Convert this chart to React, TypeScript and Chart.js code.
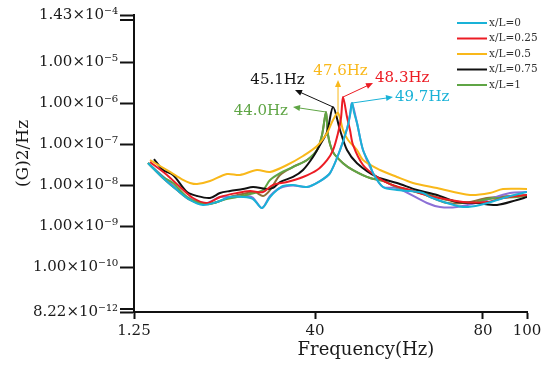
import React, { useEffect, useRef } from 'react';
import { Chart, registerables, LinearScale } from 'chart.js';

Chart.register(...registerables);

// ---------- data ----------
const seriesLabels = ['x/L=0', 'x/L=0.25', 'x/L=0.5', 'x/L=0.75', 'x/L=1'];
const peakLabels = ['49.7Hz', '48.3Hz', '47.6Hz', '45.1Hz', '44.0Hz'];

const freq0 = [4.25, 7.46, 10.46, 13.24, 16.02, 19.02, 21.8, 24.59, 26.73, 28.65, 30.37, 31.87, 33.15, 35.29, 38.29, 41.19, 43.57, 45.95, 47.62, 48.33, 48.81, 49.3, 50.0, 51.43, 53.1, 53.81, 56.19, 59.52, 62.62, 65.71, 67.38, 71.43, 75.24, 79.29, 90.9, 100];
const val0 = [3.53e-8, 1.52e-8, 7.74e-9, 4.42e-9, 3.34e-9, 3.95e-9, 5.23e-9, 5.23e-9, 4.67e-9, 2.82e-9, 5.23e-9, 7.74e-9, 9.7e-9, 1.03e-8, 9.17e-9, 1.28e-8, 2.0e-8, 7.3e-8, 2.4e-7, 5.2e-7, 1.02e-6, 6.0e-7, 3.33e-7, 7.31e-8, 3.15e-8, 2.01e-8, 9.17e-9, 7.74e-9, 7.3e-9, 6.55e-9, 5.23e-9, 3.73e-9, 2.98e-9, 3.34e-9, 5.23e-9, 6.92e-9];

const freq1 = [4.68, 8.31, 11.1, 13.88, 16.88, 19.66, 23.3, 26.08, 28.87, 31.01, 34.0, 37.43, 40.48, 42.86, 44.29, 45.48, 46.19, 46.67, 47.62, 48.33, 49.05, 51.43, 54.76, 57.86, 62.62, 67.38, 75.24, 81.82, 89.09, 100];
const val1 = [3.73e-8, 1.8e-8, 9.17e-9, 4.94e-9, 3.73e-9, 5.23e-9, 6.55e-9, 7.3e-9, 6.92e-9, 1.03e-8, 1.21e-8, 1.61e-8, 2.38e-8, 4.17e-8, 7.3e-8, 1.9e-7, 4.41e-7, 1.43e-6, 4.66e-7, 2.25e-7, 9.7e-8, 3.15e-8, 1.61e-8, 1.08e-8, 7.74e-9, 5.53e-9, 3.95e-9, 3.95e-9, 4.94e-9, 5.85e-9];

const freq2 = [4.68, 8.96, 11.74, 13.24, 14.74, 17.52, 21.16, 23.94, 27.58, 30.37, 34.0, 37.43, 40.48, 42.86, 44.29, 45.48, 46.67, 47.86, 50.0, 51.43, 55.48, 59.52, 63.33, 69.05, 76.9, 83.18, 89.09, 100];
const val2 = [4.17e-8, 2.13e-8, 1.36e-8, 1.15e-8, 1.08e-8, 1.28e-8, 1.9e-8, 1.8e-8, 2.38e-8, 2.13e-8, 3.15e-8, 5.22e-8, 9.16e-8, 1.9e-7, 3.94e-7, 5.84e-7, 2.25e-7, 1.28e-7, 7.31e-8, 4.17e-8, 2.38e-8, 1.61e-8, 1.15e-8, 8.67e-9, 5.85e-9, 6.55e-9, 8.19e-9, 8.19e-9];

const freq3 = [5.53, 7.46, 9.6, 12.6, 14.74, 17.52, 19.66, 21.8, 24.59, 26.73, 29.72, 31.01, 32.51, 35.29, 37.43, 39.57, 41.19, 42.86, 44.29, 45.95, 47.62, 50.0, 54.76, 59.52, 64.29, 69.05, 73.81, 78.57, 86.36, 95.45, 100];
const val3 = [4.41e-8, 2.38e-8, 1.8e-8, 6.92e-9, 5.53e-9, 4.94e-9, 6.55e-9, 7.32e-9, 8.19e-9, 9.17e-9, 8.19e-9, 8.67e-9, 1.21e-8, 1.61e-8, 2.38e-8, 4.94e-8, 9.68e-8, 2.01e-7, 8.18e-7, 2.25e-7, 7.31e-8, 3.5e-8, 1.61e-8, 1.15e-8, 7.74e-9, 5.85e-9, 3.95e-9, 3.73e-9, 3.34e-9, 4.42e-9, 5.23e-9];

const freq4 = [4.25, 7.46, 9.6, 12.6, 15.38, 17.52, 20.3, 23.3, 26.08, 28.87, 30.37, 32.51, 35.29, 38.29, 40.48, 41.67, 42.62, 43.1, 44.29, 46.67, 49.05, 53.1, 56.19, 59.52, 65.71, 71.43, 77.62, 80, 86.36, 95.45, 100];
const val4 = [3.53e-8, 1.61e-8, 1.15e-8, 5.23e-9, 3.73e-9, 3.53e-9, 4.42e-9, 5.23e-9, 6.19e-9, 7.74e-9, 1.36e-8, 2.01e-8, 2.82e-8, 4.17e-8, 7.31e-8, 1.7e-7, 6.17e-7, 1.7e-7, 6.5e-8, 3.5e-8, 2.38e-8, 1.52e-8, 1.3e-8, 9.17e-9, 6.55e-9, 4.42e-9, 3.73e-9, 4.42e-9, 4.94e-9, 5.23e-9, 5.53e-9];

// two faint unlabeled traces visible in the figure
const freq5 = [4.68, 8.31, 11.1, 13.88, 16.88, 19.66, 22.44, 25.44, 26.73, 28.65, 30.37, 32.51, 35.29, 38.29, 41.19, 43.57, 45.95, 47.62, 48.33, 48.81, 50.0, 51.43, 53.81, 56.19, 59.52, 66.67, 69.76, 73.81, 79.29, 92.27, 100];
const val5 = [3.15e-8, 1.36e-8, 6.92e-9, 4.42e-9, 3.73e-9, 5.23e-9, 5.23e-9, 5.53e-9, 5.0e-9, 2.82e-9, 5.53e-9, 8.67e-9, 1.0e-8, 9.17e-9, 1.28e-8, 2.0e-8, 7.3e-8, 2.4e-7, 5.2e-7, 1.0e-6, 3.33e-7, 7.31e-8, 2.01e-8, 9.17e-9, 8.67e-9, 3.73e-9, 2.98e-9, 2.98e-9, 3.95e-9, 6.55e-9, 6.92e-9];

const freq6 = [4.25, 7.46, 10.46, 13.24, 16.02, 19.02, 21.8, 24.59, 27.15, 28.87, 30.37, 32.51, 35.29, 38.29, 40.48, 41.67, 42.62, 43.1, 44.29, 46.67, 49.05, 53.1, 56.19, 59.52, 65.71, 71.43, 76.9, 81.82, 100];
const val6 = [3.53e-8, 1.52e-8, 7.74e-9, 4.42e-9, 3.53e-9, 3.95e-9, 5.23e-9, 6.19e-9, 6.92e-9, 5.53e-9, 7.74e-9, 1.8e-8, 2.82e-8, 4.17e-8, 7.31e-8, 1.7e-7, 6.17e-7, 1.7e-7, 6.5e-8, 3.5e-8, 2.38e-8, 1.52e-8, 1.3e-8, 9.17e-9, 6.2e-9, 3.73e-9, 3.95e-9, 4.94e-9, 5.85e-9];

const xTickValues = [1.25, 40, 80, 100];
const xTickLabels = ['1.25', '40', '80', '100'];
const yTickValues = [8.22e-12, 1e-10, 1e-9, 1e-8, 1e-7, 1e-6, 1e-5, 1.43e-4];
const yTickLabels = ['8.22×10⁻¹²', '1.00×10⁻¹⁰', '1.00×10⁻⁹', '1.00×10⁻⁸', '1.00×10⁻⁷', '1.00×10⁻⁶', '1.00×10⁻⁵', '1.43×10⁻⁴'];

const xTitle = 'Frequency(Hz)';
const yTitle = '(G)2/Hz';

// ---------- styles ----------
const COLORS = ['#19b2d7', '#ec1c24', '#f9b81a', '#111111', '#5fa545'];
const EXTRA_COLORS = ['#8c70d6', '#8c7038'];
const FONT = '"DejaVu Serif", "Liberation Serif", serif';

// x axis is drawn with uneven tick spacing in the figure: piecewise-linear mapping
const X_ANCHOR_HZ = [1.25, 40, 80, 100];
const X_ANCHOR_FRAC = [0, 0.4606, 0.888, 1];

function hzToFrac(v: number) {
  const a = X_ANCHOR_HZ, f = X_ANCHOR_FRAC;
  let i = 0;
  while (i < a.length - 2 && v > a[i + 1]) i++;
  return f[i] + ((v - a[i]) / (a[i + 1] - a[i])) * (f[i + 1] - f[i]);
}
function fracToHz(d: number) {
  const a = X_ANCHOR_HZ, f = X_ANCHOR_FRAC;
  let i = 0;
  while (i < f.length - 2 && d > f[i + 1]) i++;
  return a[i] + ((d - f[i]) / (f[i + 1] - f[i])) * (a[i + 1] - a[i]);
}

class PiecewiseScale extends LinearScale {
  static id = 'piecewise';
  static defaults = LinearScale.defaults;
  getPixelForValue(value: number) {
    return (this as any).getPixelForDecimal(hzToFrac(value));
  }
  getValueForPixel(pixel: number) {
    return fracToHz((this as any).getDecimalForPixel(pixel));
  }
}
Chart.register(PiecewiseScale as any);

// annotation geometry relative to each peak (pixels)
const ARROWS = [
  { tip: [41, -6], text: [43, -6], align: 'left' },
  { tip: [30, -14], text: [32, -19], align: 'left' },
  { tip: [0, -33], text: [2.5, -42], align: 'center' },
  { tip: [-38, -17], text: [-55.5, -27], align: 'center' },
  { tip: [-33, -5], text: [-38, -1], align: 'right' },
];

function arrow(ctx: CanvasRenderingContext2D, x0: number, y0: number, x1: number, y1: number, color: string) {
  ctx.save();
  ctx.strokeStyle = color;
  ctx.fillStyle = color;
  ctx.lineWidth = 1;
  const ang = Math.atan2(y1 - y0, x1 - x0);
  const L = 7, W = 3;
  ctx.beginPath();
  ctx.moveTo(x0, y0);
  ctx.lineTo(x1 - Math.cos(ang) * L * 0.8, y1 - Math.sin(ang) * L * 0.8);
  ctx.stroke();
  ctx.beginPath();
  ctx.moveTo(x1, y1);
  ctx.lineTo(x1 - Math.cos(ang) * L - Math.sin(ang) * W, y1 - Math.sin(ang) * L + Math.cos(ang) * W);
  ctx.lineTo(x1 - Math.cos(ang) * L + Math.sin(ang) * W, y1 - Math.sin(ang) * L - Math.cos(ang) * W);
  ctx.closePath();
  ctx.fill();
  ctx.restore();
}

const overlayPlugin = {
  id: 'overlay',
  afterDatasetsDraw(chart: any) {
    const ctx: CanvasRenderingContext2D = chart.ctx;
    for (let i = 0; i < seriesLabels.length; i++) {
      const meta = chart.getDatasetMeta(i);
      let best: any = null;
      for (const el of meta.data) if (!best || el.y < best.y) best = el;
      if (!best) continue;
      const g = ARROWS[i];
      const tx = best.x + g.tip[0], ty = best.y + g.tip[1];
      arrow(ctx, best.x, best.y, tx, ty, COLORS[i]);
      ctx.save();
      ctx.fillStyle = COLORS[i];
      ctx.font = '15px ' + FONT;
      ctx.textAlign = g.align as CanvasTextAlign;
      ctx.textBaseline = 'middle';
      ctx.fillText(peakLabels[i], best.x + g.text[0], best.y + g.text[1]);
      ctx.restore();
    }
  },
  afterDraw(chart: any) {
    const ctx: CanvasRenderingContext2D = chart.ctx;
    const { left, right, top, bottom } = chart.chartArea;
    ctx.save();
    // axis break marks
    ctx.strokeStyle = '#111';
    ctx.lineWidth = 2;
    ctx.beginPath();
    ctx.moveTo(left - 14, top + 5);
    ctx.lineTo(left, top + 5);
    ctx.moveTo(left - 14, bottom - 3);
    ctx.lineTo(left, bottom - 3);
    ctx.stroke();
    // axis titles
    ctx.fillStyle = '#1a1a1a';
    ctx.font = '18px ' + FONT;
    ctx.textAlign = 'center';
    ctx.textBaseline = 'alphabetic';
    ctx.fillText(xTitle, left + (right - left) * 0.59, bottom + 43);
    ctx.translate(28, (top + bottom) / 2 - 10);
    ctx.rotate(-Math.PI / 2);
    ctx.font = '17px ' + FONT;
    ctx.fillText(yTitle, 0, 0);
    ctx.restore();
    // legend
    ctx.save();
    ctx.font = '10.5px ' + FONT;
    ctx.textBaseline = 'middle';
    ctx.textAlign = 'left';
    for (let i = 0; i < seriesLabels.length; i++) {
      const y = 23 + i * 15.5;
      ctx.strokeStyle = COLORS[i];
      ctx.lineWidth = 2;
      ctx.beginPath();
      ctx.moveTo(457, y);
      ctx.lineTo(487, y);
      ctx.stroke();
      ctx.fillStyle = '#333';
      ctx.fillText(seriesLabels[i], 489, y);
    }
    ctx.restore();
  },
};

function makeData(freq: number[], val: number[]) {
  return freq.map((f, i) => ({ x: f, y: val[i] }));
}

export default function App() {
  const ref = useRef<HTMLCanvasElement | null>(null);
  useEffect(() => {
    document.body.style.margin = '0';
    const canvas = ref.current;
    if (!canvas) return;
    const labeled = [
      [freq0, val0], [freq1, val1], [freq2, val2], [freq3, val3], [freq4, val4],
    ].map(([f, v], i) => ({
      label: seriesLabels[i],
      data: makeData(f as number[], v as number[]),
      borderColor: COLORS[i],
      backgroundColor: COLORS[i],
    }));
    const extra = [[freq5, val5], [freq6, val6]].map(([f, v], i) => ({
      label: '',
      data: makeData(f as number[], v as number[]),
      borderColor: EXTRA_COLORS[i],
      backgroundColor: EXTRA_COLORS[i],
    }));
    const tickFont = { family: FONT, size: 15 };
    const chart = new Chart(canvas, {
      type: 'line',
      data: { datasets: [...labeled, ...extra] as any },
      options: {
        responsive: false,
        animation: false,
        layout: { padding: { top: 15, right: 23, left: 0, bottom: 0 } },
        plugins: { legend: { display: false }, tooltip: { enabled: false } },
        elements: {
          point: { radius: 0 },
          line: { borderWidth: 2, tension: 0.3, fill: false },
        },
        scales: {
          x: {
            type: 'piecewise' as any,
            min: 1.25,
            max: 100,
            bounds: 'data',
            afterBuildTicks: (s: any) => { s.ticks = xTickValues.map((v) => ({ value: v })); },
            afterFit: (s: any) => { s.height = 59; },
            grid: { drawOnChartArea: false, drawTicks: true, tickLength: 7, tickWidth: 2, tickColor: '#111' },
            border: { display: true, color: '#111', width: 2 },
            ticks: {
              autoSkip: false, maxRotation: 0, padding: 3, font: tickFont, color: '#1a1a1a',
              callback: (_v: any, i: number) => xTickLabels[i],
            },
          } as any,
          y: {
            type: 'logarithmic',
            min: 8.22e-12,
            max: 1.43e-4,
            bounds: 'data',
            afterBuildTicks: (s: any) => { s.ticks = yTickValues.map((v) => ({ value: v })); },
            afterFit: (s: any) => { s.width = 134; },
            grid: { drawOnChartArea: false, drawTicks: true, tickLength: 14, tickWidth: 2, tickColor: '#111' },
            border: { display: true, color: '#111', width: 2 },
            ticks: {
              autoSkip: false, padding: 2, font: tickFont, color: '#1a1a1a',
              callback: (_v: any, i: number) => yTickLabels[i],
            },
          } as any,
        },
      },
      plugins: [overlayPlugin],
    });
    return () => chart.destroy();
  }, []);
  return (
    <div style={{ width: 550, height: 371 }}>
      <canvas ref={ref} width={550} height={371} />
    </div>
  );
}
